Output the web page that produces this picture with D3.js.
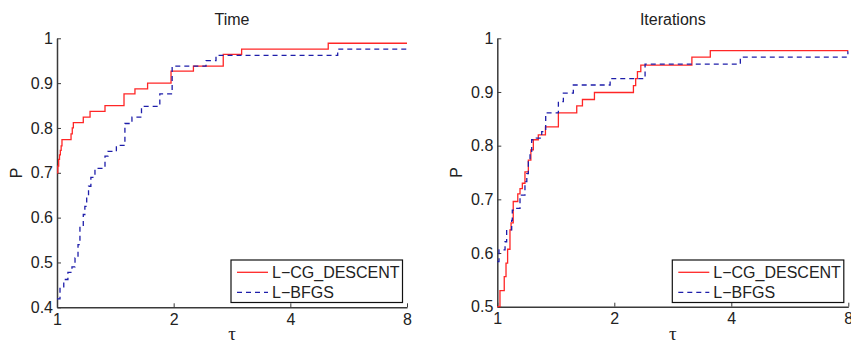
<!DOCTYPE html>
<html>
<head>
<meta charset="utf-8">
<script src="https://cdn.jsdelivr.net/npm/d3@7"></script>
<style>
  body { margin: 0; background: #fff; }
  svg text { font-family: "Liberation Sans", Arial, sans-serif; fill: #222; }
</style>
</head>
<body>
<div id="chart"></div>
<script>
// tick values
const xTicks = [1, 2, 4, 8];
const yTicksTime = [0.4, 0.5, 0.6, 0.7, 0.8, 0.9, 1];
const yTicksIter = [0.5, 0.6, 0.7, 0.8, 0.9, 1];
const seriesNames = ['L\u2212CG_DESCENT', 'L\u2212BFGS'];

// Time panel: step points (tau, P)
const timeCgTau = [1, 1.005, 1.01, 1.015, 1.02, 1.025, 1.03, 1.087, 1.095, 1.102, 1.169, 1.217, 1.33, 1.489, 1.589, 1.713, 1.969, 2.249, 2.685, 2.995, 5.01, 8];
const timeCgP   = [0.70, 0.715, 0.73, 0.74, 0.75, 0.76, 0.774, 0.787, 0.80, 0.812, 0.824, 0.837, 0.850, 0.876, 0.887, 0.90, 0.927, 0.938, 0.964, 0.976, 0.989, 0.989];
const timeBfTau = [1, 1.018, 1.041, 1.067, 1.093, 1.113, 1.133, 1.146, 1.169, 1.18, 1.193, 1.206, 1.223, 1.253, 1.330, 1.354, 1.423, 1.497, 1.561, 1.652, 1.842, 1.982, 2.424, 2.572, 5.3, 8];
const timeBfP   = [0.419, 0.444, 0.462, 0.478, 0.490, 0.51, 0.54, 0.58, 0.607, 0.625, 0.645, 0.67, 0.69, 0.710, 0.737, 0.748, 0.761, 0.810, 0.824, 0.848, 0.876, 0.938, 0.950, 0.962, 0.976, 0.976];

// Iterations panel
const iterCgTau = [1, 1.016, 1.042, 1.053, 1.063, 1.078, 1.085, 1.099, 1.129, 1.144, 1.160, 1.178, 1.202, 1.22, 1.238, 1.275, 1.33, 1.436, 1.601, 1.656, 1.778, 2.24, 2.27, 2.294, 2.340, 3.167, 3.532, 8];
const iterCgP   = [0.50, 0.530, 0.556, 0.581, 0.607, 0.643, 0.656, 0.696, 0.71, 0.720, 0.730, 0.751, 0.773, 0.792, 0.811, 0.82, 0.835, 0.861, 0.874, 0.886, 0.899, 0.912, 0.925, 0.938, 0.950, 0.965, 0.977, 0.977];
const iterBfTau = [1, 1.010, 1.047, 1.057, 1.089, 1.093, 1.111, 1.144, 1.178, 1.191, 1.202, 1.214, 1.226, 1.26, 1.301, 1.332, 1.436, 1.479, 1.569, 1.951, 2.400, 4.22, 7.98, 8];
const iterBfP   = [0.584, 0.606, 0.621, 0.643, 0.661, 0.680, 0.683, 0.708, 0.733, 0.748, 0.770, 0.786, 0.811, 0.814, 0.826, 0.861, 0.882, 0.898, 0.913, 0.925, 0.952, 0.965, 0.975, 0.975];

const W = 851, H = 344;
const svg = d3.select('#chart').append('svg')
  .attr('width', W)
  .attr('height', H);

const styles = [
  {color: '#ff2626', dash: null, width: 1.3},
  {color: '#1e1eaa', dash: '5,4', width: 1.3}
];

function zip(t, p) {
  return t.map((v, i) => [v, p[i]]);
}

function drawPanel(cfg) {
  const x = d3.scaleLog().base(2).domain([1, 8]).range([cfg.left, cfg.right]);
  const y = d3.scaleLinear().domain(cfg.yDomain).range([cfg.bottom, cfg.top]);
  const g = svg.append('g');

  // axes
  const xAxis = d3.axisBottom(x)
    .tickValues(xTicks)
    .tickFormat(d3.format('d'))
    .tickSizeInner(-4)
    .tickSizeOuter(0)
    .tickPadding(8);
  const gx = g.append('g')
    .attr('transform', `translate(0,${cfg.bottom})`)
    .call(xAxis);

  const yAxis = d3.axisLeft(y)
    .tickValues(cfg.yTicks)
    .tickFormat(d => d === 1 ? '1' : d3.format('.1f')(d))
    .tickSizeInner(-4)
    .tickSizeOuter(0)
    .tickPadding(4);
  const gy = g.append('g')
    .attr('transform', `translate(${cfg.left},0)`)
    .call(yAxis);

  [gx, gy].forEach(a => {
    a.select('.domain').attr('stroke', '#3a3a3a').attr('stroke-width', 1.5);
    a.selectAll('.tick line').attr('stroke', '#3a3a3a').attr('stroke-width', 1);
    a.selectAll('.tick text')
      .attr('fill', '#222')
      .style('font-size', '16px')
      .style('font-family', '"Liberation Sans", Arial, sans-serif');
  });
  gx.selectAll('.tick text').attr('dy', '0.6em');

  // curves
  const line = d3.line()
    .x(d => x(d[0]))
    .y(d => y(d[1]))
    .curve(d3.curveStepAfter);

  cfg.series.forEach((s, i) => {
    g.append('path')
      .datum(s)
      .attr('fill', 'none')
      .attr('stroke', styles[i].color)
      .attr('stroke-width', styles[i].width)
      .attr('stroke-dasharray', styles[i].dash)
      .attr('d', line);
  });

  const cx = (cfg.left + cfg.right) / 2;

  // title
  g.append('text')
    .attr('x', cx)
    .attr('y', 25)
    .attr('text-anchor', 'middle')
    .style('font-size', '16px')
    .text(cfg.title);

  // axis labels
  g.append('text')
    .attr('x', cx)
    .attr('y', 340)
    .attr('text-anchor', 'middle')
    .style('font-family', '"Liberation Serif", "DejaVu Serif", serif')
    .style('font-size', '19px')
    .text('\u03c4');

  g.append('text')
    .attr('transform', `translate(${cfg.left - 35},${(cfg.top + cfg.bottom) / 2}) rotate(-90)`)
    .attr('text-anchor', 'middle')
    .style('font-size', '16px')
    .text('P');

  // legend
  const lg = g.append('g')
    .attr('transform', `translate(${cfg.right - 176},260)`);
  lg.append('rect')
    .attr('width', 171.5)
    .attr('height', 42.5)
    .attr('fill', '#fff')
    .attr('stroke', '#111')
    .attr('stroke-width', 1.2);
  seriesNames.forEach((name, i) => {
    const yy = 12.3 + i * 20;
    lg.append('line')
      .attr('x1', 6).attr('x2', 37)
      .attr('y1', yy).attr('y2', yy)
      .attr('stroke', styles[i].color)
      .attr('stroke-width', styles[i].width)
      .attr('stroke-dasharray', styles[i].dash);
    lg.append('text')
      .attr('x', 41)
      .attr('y', yy + 6)
      .style('font-size', '16px')
      .text(name);
  });
}

drawPanel({
  title: 'Time',
  left: 57, right: 407, top: 38.3, bottom: 307.3,
  yDomain: [0.4, 1], yTicks: yTicksTime,
  series: [zip(timeCgTau, timeCgP), zip(timeBfTau, timeBfP)]
});

drawPanel({
  title: 'Iterations',
  left: 497.3, right: 848.3, top: 38.3, bottom: 306.7,
  yDomain: [0.5, 1], yTicks: yTicksIter,
  series: [zip(iterCgTau, iterCgP), zip(iterBfTau, iterBfP)]
});
</script>
</body>
</html>
